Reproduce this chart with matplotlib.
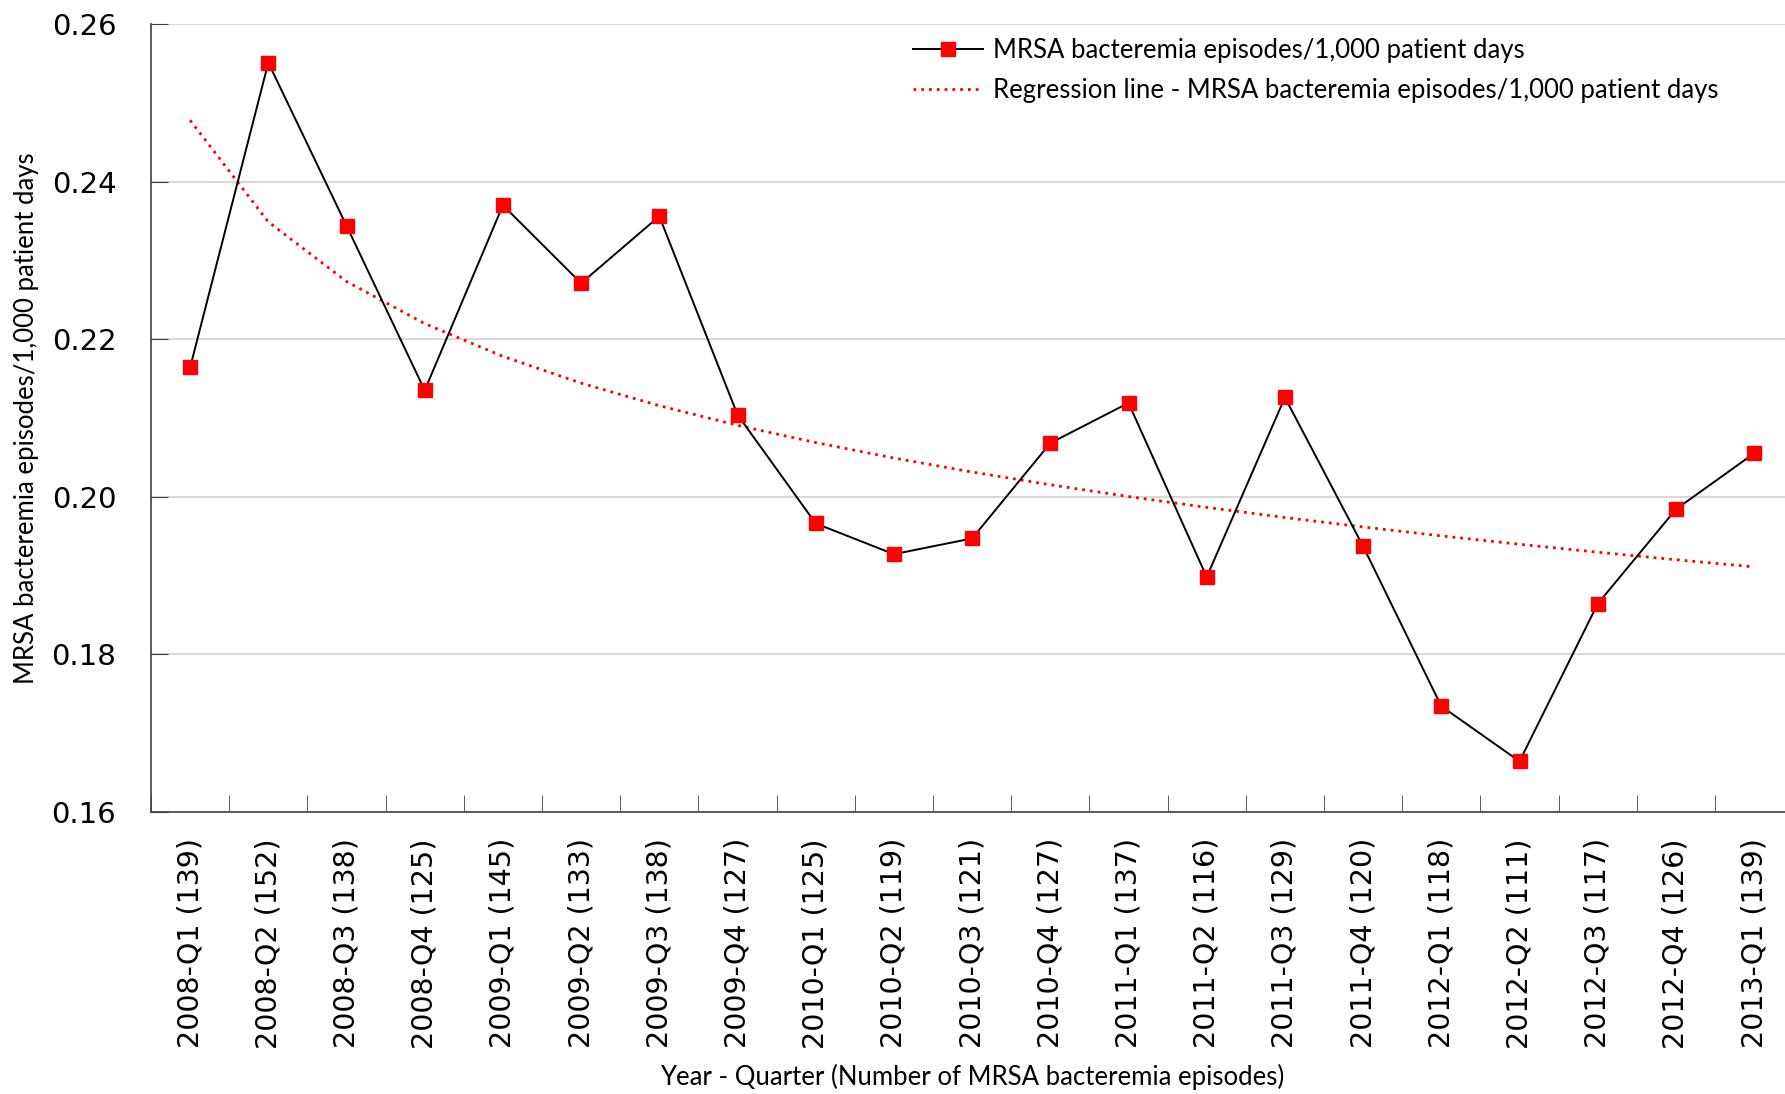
import numpy as np
import matplotlib.pyplot as plt

quarters = ['2008-Q1', '2008-Q2', '2008-Q3', '2008-Q4',
            '2009-Q1', '2009-Q2', '2009-Q3', '2009-Q4',
            '2010-Q1', '2010-Q2', '2010-Q3', '2010-Q4',
            '2011-Q1', '2011-Q2', '2011-Q3', '2011-Q4',
            '2012-Q1', '2012-Q2', '2012-Q3', '2012-Q4',
            '2013-Q1']
episodes = [139, 152, 138, 125, 145, 133, 138, 127, 125, 119, 121,
            127, 137, 116, 129, 120, 118, 111, 117, 126, 139]
rate = [0.2164, 0.2551, 0.2344, 0.2135, 0.2370, 0.2271, 0.2356, 0.2104,
        0.1966, 0.1927, 0.1947, 0.2068, 0.2119, 0.1898, 0.2126, 0.1937,
        0.1734, 0.1664, 0.1864, 0.1984, 0.2055]

narrow = 'Lato'

labels = [f'{q} ({n})' for q, n in zip(quarters, episodes)]
x = np.arange(len(rate))

# logarithmic trend line, fitted to the series
b, a = np.polyfit(np.log(x + 1), rate, 1)
trend = a + b * np.log(x + 1)

fig = plt.figure(figsize=(17.85, 10.94), dpi=100)
ax = fig.add_axes([0.0846, 0.258, 0.92, 0.72])

ax.plot(x, rate, color='black', lw=1.4, marker='s', ms=10.5,
        mfc='red', mec='red', label='MRSA bacteremia episodes/1,000 patient days', zorder=3)
ax.plot(x, trend, color='red', lw=2, ls=(0, (1, 1.8)),
        label='Regression line - MRSA bacteremia episodes/1,000 patient days', zorder=2)

ax.set_xlim(-0.5, len(rate) - 0.5)
ax.set_ylim(0.16, 0.26)
ax.set_yticks(np.arange(0.16, 0.261, 0.02))
ax.set_yticklabels([f'{v:.2f}' for v in np.arange(0.16, 0.261, 0.02)], fontsize=21)
ax.set_xticks(x)
ax.set_xticklabels(labels, rotation=90, fontsize=20.5)
ax.set_xticks(np.arange(-0.5, len(rate), 1), minor=True)
ax.tick_params(axis='x', which='major', length=0, pad=19)
ax.tick_params(axis='x', which='minor', direction='in', length=12, color='#404040')
ax.tick_params(axis='y', direction='in', length=12, color='#404040', pad=25)

ax.grid(axis='y', color='#d9d9d9', lw=1.5)
ax.set_axisbelow(True)
for s in ['top', 'right']:
    ax.spines[s].set_visible(False)
for s in ['left', 'bottom']:
    ax.spines[s].set_color('#404040')
    ax.spines[s].set_linewidth(1.2)

ax.set_ylabel('MRSA bacteremia episodes/1,000 patient days', fontsize=18.5, family=narrow, labelpad=9)
ax.set_xlabel('Year - Quarter (Number of MRSA bacteremia episodes)', fontsize=18.5, family=narrow, labelpad=11)

ax.legend(loc='upper left', bbox_to_anchor=(0.45, 1.012), frameon=False,
          prop={'family': narrow, 'size': 18.5}, handlelength=2.7, handletextpad=0.4,
          labelspacing=0.6)

fig.savefig('out.png', dpi=100)
